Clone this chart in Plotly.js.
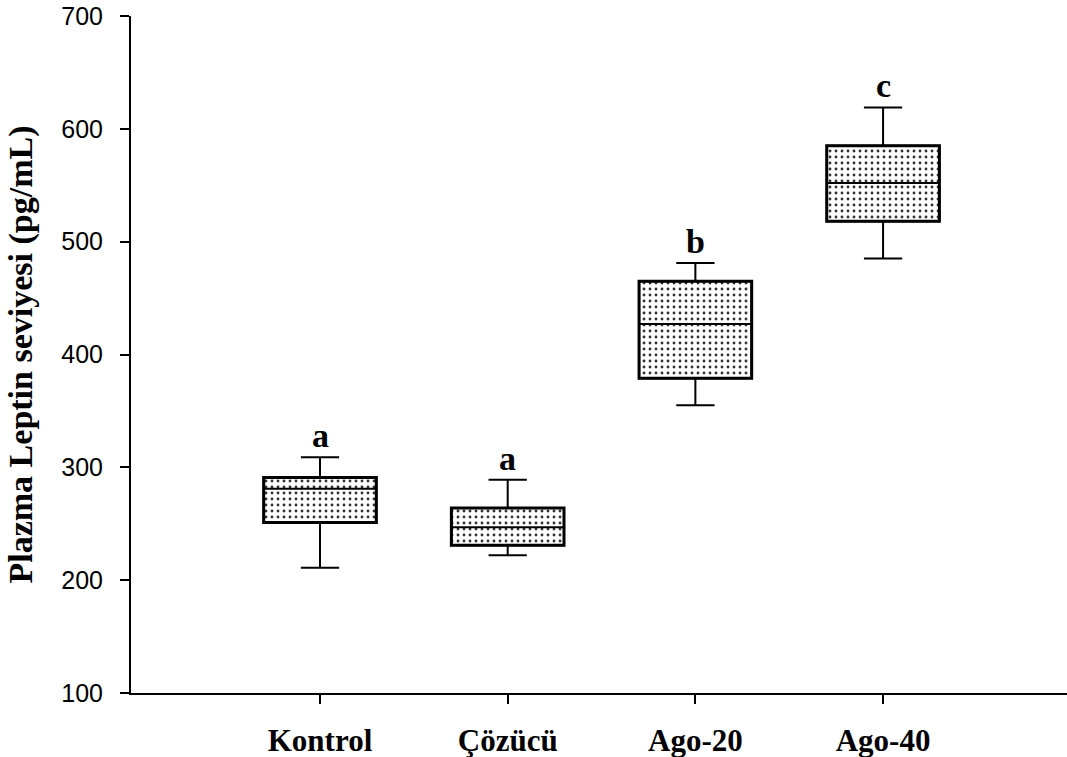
<!DOCTYPE html>
<html>
<head>
<meta charset="utf-8">
<script src="https://cdn.plot.ly/plotly-3.0.1.min.js"></script>
<style>
  html, body { margin: 0; padding: 0; background: #fff; }
  #chart { width: 1067px; height: 757px; }
</style>
</head>
<body>
<div id="chart"></div>
<script>
// Plasma leptin levels per group (pg/mL)
const groups      = ['Kontrol', 'Çözücü', 'Ago-20', 'Ago-40'];
const lowerWhisk  = [211, 222, 355, 485];
const q1          = [251, 231, 379, 518];
const medians     = [281, 247, 427, 552];
const q3          = [291, 264, 465, 585];
const upperWhisk  = [309, 289, 481, 619];
const sigLetters  = ['a', 'a', 'b', 'c'];

const serif = '"Liberation Serif", "Times New Roman", Times, serif';
const sans  = '"Liberation Sans", Arial, Helvetica, sans-serif';

// Stippled box interiors (interquartile range) with a heavier outline
const fill = {
  type: 'bar',
  x: groups,
  base: q1,
  y: q3.map((v, i) => v - q1[i]),
  width: 0.6,
  marker: {
    color: '#ffffff',
    line: { width: 3, color: '#000000' },
    pattern: { shape: '.', fgcolor: '#333333', bgcolor: '#ffffff', size: 6, solidity: 0.18 }
  },
  hoverinfo: 'skip',
  showlegend: false
};

// Medians and whiskers
const boxes = {
  type: 'box',
  x: groups,
  q1: q1,
  median: medians,
  q3: q3,
  lowerfence: lowerWhisk,
  upperfence: upperWhisk,
  width: 0.6,
  whiskerwidth: 0.34,
  fillcolor: 'rgba(0,0,0,0)',
  line: { color: '#000000', width: 2 },
  boxpoints: false,
  showlegend: false
};

const letters = groups.map((g, i) => ({
  x: g, y: upperWhisk[i], xref: 'x', yref: 'y',
  text: sigLetters[i], showarrow: false,
  yanchor: 'bottom', yshift: 1,
  font: { family: serif, size: 34, color: '#000', weight: 'bold' }
}));

const layout = {
  width: 1067, height: 757,
  margin: { l: 131, r: 0, t: 16, b: 64 },
  paper_bgcolor: '#ffffff', plot_bgcolor: '#ffffff',
  showlegend: false,
  xaxis: {
    type: 'category',
    range: [-1.007, 3.98],
    showline: true, linecolor: '#000', linewidth: 2,
    ticks: 'outside', ticklen: 9, tickwidth: 2, tickcolor: '#000',
    showgrid: false, zeroline: false,
    ticklabelstandoff: 10,
    tickfont: { family: serif, size: 31, color: '#000', weight: 'bold' }
  },
  yaxis: {
    range: [100, 700],
    tickvals: [100, 200, 300, 400, 500, 600, 700],
    showline: true, linecolor: '#000', linewidth: 2,
    ticks: 'outside', ticklen: 9, tickwidth: 2, tickcolor: '#000',
    showgrid: false, zeroline: false,
    ticklabelstandoff: 12,
    ticklabeloverflow: 'allow',
    tickfont: { family: sans, size: 25, color: '#000' },
    title: {
      text: 'Plazma Leptin seviyesi (pg/mL)',
      standoff: 18,
      font: { family: serif, size: 34, color: '#000', weight: 'bold' }
    }
  },
  annotations: letters
};

Plotly.newPlot('chart', [fill, boxes], layout, { staticPlot: true, displayModeBar: false });
</script>
</body>
</html>
